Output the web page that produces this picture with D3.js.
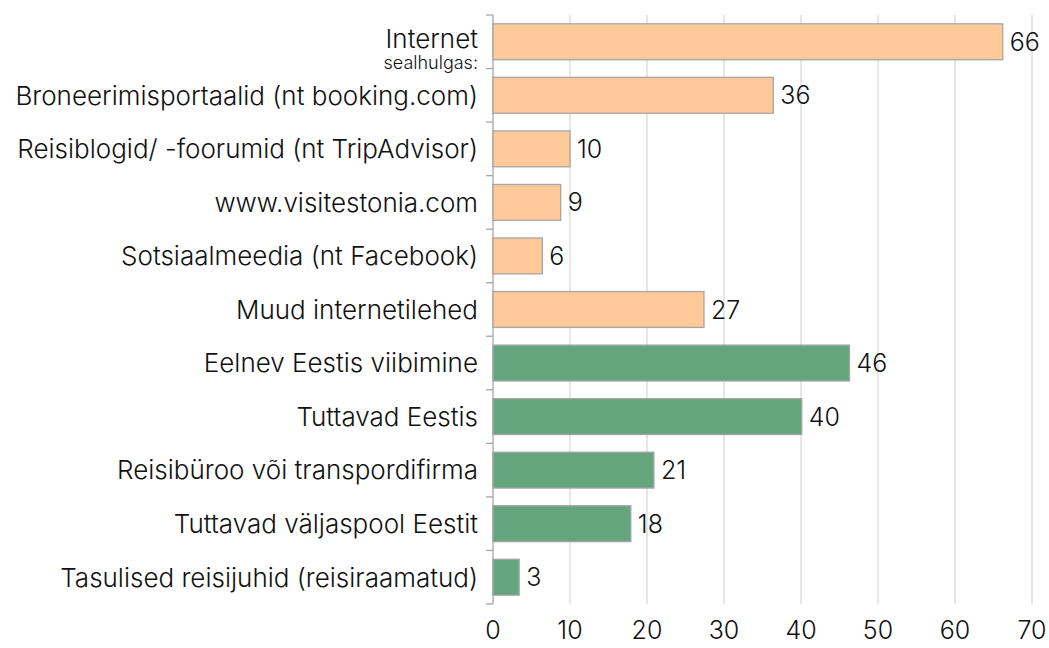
<!DOCTYPE html>
<html>
<head>
<meta charset="utf-8">
<script src="https://cdn.jsdelivr.net/npm/d3@7"></script>
<style>
  body { margin: 0; background: #fff; }
  svg { display: block; font-family: Inter, "Open Sans", sans-serif; font-weight: 300; }
</style>
</head>
<body>
<div id="chart"></div>
<script>
// categories, top to bottom
const categories = [
  'Internet',
  'Broneerimisportaalid (nt booking.com)',
  'Reisiblogid/ -foorumid (nt TripAdvisor)',
  'www.visitestonia.com',
  'Sotsiaalmeedia (nt Facebook)',
  'Muud internetilehed',
  'Eelnev Eestis viibimine',
  'Tuttavad Eestis',
  'Reisibüroo või transpordifirma',
  'Tuttavad väljaspool Eestit',
  'Tasulised reisijuhid (reisiraamatud)'
];
const values = [66.2, 36.4, 10.0, 8.8, 6.4, 27.4, 46.3, 40.1, 20.9, 17.9, 3.4];
const groups = ['web', 'web', 'web', 'web', 'web', 'web', 'other', 'other', 'other', 'other', 'other'];
const xTicks = [0, 10, 20, 30, 40, 50, 60, 70];

const width = 1049, height = 648;
const margin = {top: 15, right: 17, bottom: 44, left: 493};

const color = {web: '#FFC999', other: '#64A57E'};

const svg = d3.select('#chart').append('svg')
  .attr('width', width)
  .attr('height', height);

const x = d3.scaleLinear()
  .domain([0, 70])
  .range([margin.left, width - margin.right]);

const y = d3.scaleBand()
  .domain(categories)
  .range([margin.top, height - margin.bottom])
  .paddingInner(0.33)
  .paddingOuter(0.165);

// grid lines
svg.append('g')
  .selectAll('line')
  .data(xTicks.slice(1))
  .enter().append('line')
    .attr('x1', d => x(d)).attr('x2', d => x(d))
    .attr('y1', margin.top).attr('y2', height - margin.bottom)
    .attr('stroke', '#d9d9d9')
    .attr('stroke-width', 1.3);

// bottom tick labels
svg.append('g')
  .selectAll('text')
  .data(xTicks)
  .enter().append('text')
    .attr('x', d => x(d))
    .attr('y', 639)
    .attr('text-anchor', 'middle')
    .style('font-size', '25px')
    .attr('fill', '#111')
    .text(d => d);

// left axis line with ticks at band boundaries
const step = y.step();
const bounds = d3.range(categories.length + 1).map(i => margin.top + i * step);
const ax = svg.append('g');
ax.append('line')
  .attr('x1', margin.left).attr('x2', margin.left)
  .attr('y1', margin.top).attr('y2', height - margin.bottom)
  .attr('stroke', '#a6a6a6').attr('stroke-width', 1.3);
ax.selectAll('line.tk')
  .data(bounds)
  .enter().append('line')
    .attr('class', 'tk')
    .attr('x1', margin.left - 7).attr('x2', margin.left)
    .attr('y1', d => d).attr('y2', d => d)
    .attr('stroke', '#a6a6a6').attr('stroke-width', 1.3);

// bars
svg.append('g')
  .selectAll('rect')
  .data(categories)
  .enter().append('rect')
    .attr('x', x(0))
    .attr('y', d => y(d))
    .attr('width', (d, i) => x(values[i]) - x(0))
    .attr('height', y.bandwidth())
    .attr('fill', (d, i) => color[groups[i]])
    .attr('stroke', '#a6a6a6')
    .attr('stroke-width', 1.3);

// value labels
svg.append('g')
  .selectAll('text')
  .data(categories)
  .enter().append('text')
    .attr('x', (d, i) => x(values[i]) + 7)
    .attr('y', d => y(d) + y.bandwidth() / 2)
    .attr('dy', '0.36em')
    .style('font-size', '25px')
    .attr('fill', '#111')
    .text((d, i) => Math.round(values[i]));

// category labels
const lab = svg.append('g');
lab.selectAll('text')
  .data(categories)
  .enter().append('text')
    .attr('x', margin.left - 15)
    .attr('y', (d, i) => y(d) + y.bandwidth() / 2 + (i === 0 ? -3 : 0))
    .attr('dy', '0.36em')
    .attr('text-anchor', 'end')
    .style('font-size', '26px')
    .attr('fill', '#111')
    .text(d => d);

lab.append('text')
  .attr('x', margin.left - 15)
  .attr('y', y(categories[0]) + y.bandwidth() / 2 + 27)
  .attr('text-anchor', 'end')
  .style('font-size', '18px')
  .attr('fill', '#111')
  .text('sealhulgas:');
</script>
</body>
</html>
